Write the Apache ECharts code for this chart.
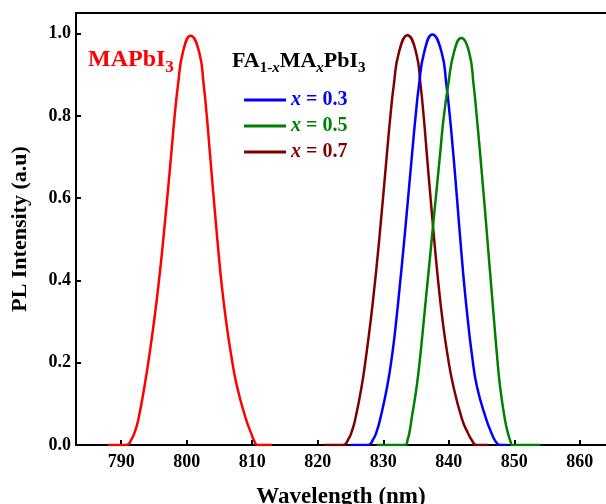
<!DOCTYPE html>
<html>
<head>
<meta charset="utf-8">
<script src="https://cdn.jsdelivr.net/npm/echarts@6/dist/echarts.min.js"></script>
<style>
  html, body { margin: 0; padding: 0; background: #fff; }
  #chart { width: 606px; height: 504px; }
</style>
</head>
<body>
<div id="chart"></div>
<script>
// PL spectra (wavelength nm / normalised intensity)
var mapWl = [788, 790.8, 791.6, 792.1, 792.6, 793.55, 794.35, 795.05, 795.67, 796.22, 796.72, 797.2, 797.66, 798.12, 798.66, 799.42, 800.6, 801.9, 802.6, 803.1, 803.53, 803.96, 804.4, 804.86, 805.36, 805.98, 806.73, 807.68, 809.08, 809.8, 810.3, 810.85, 813];
var mapPL = [0, 0, 0.015, 0.033, 0.061, 0.142, 0.224, 0.305, 0.386, 0.467, 0.549, 0.630, 0.711, 0.793, 0.874, 0.955, 0.995, 0.955, 0.874, 0.793, 0.711, 0.630, 0.549, 0.467, 0.386, 0.305, 0.224, 0.142, 0.061, 0.030, 0.010, 0, 0];

var x03Wl = [825, 827.7, 828.5, 829.0, 829.5, 830.6, 831.4, 832.0, 832.52, 833.02, 833.5, 833.96, 834.42, 834.9, 835.45, 836.25, 837.5, 838.9, 839.65, 840.2, 840.67, 841.1, 841.51, 841.93, 842.38, 842.9, 843.5, 844.3, 845.75, 846.5, 847.1, 847.8, 849];
var x03PL = [0, 0, 0.015, 0.033, 0.061, 0.142, 0.224, 0.305, 0.386, 0.467, 0.549, 0.630, 0.711, 0.793, 0.874, 0.955, 0.998, 0.955, 0.874, 0.793, 0.711, 0.630, 0.549, 0.467, 0.386, 0.305, 0.224, 0.142, 0.061, 0.030, 0.010, 0, 0];

var x05Wl = [829, 833.3, 833.75, 834.05, 834.3, 835.1, 835.7, 836.2, 836.7, 837.2, 837.7, 838.2, 838.7, 839.2, 839.9, 840.8, 841.9, 843.1, 843.8, 844.3, 844.77, 845.21, 845.64, 846.06, 846.48, 846.9, 847.33, 847.83, 848.58, 849.05, 849.4, 849.73, 854];
var x05PL = [0, 0, 0.015, 0.035, 0.061, 0.142, 0.224, 0.305, 0.386, 0.467, 0.549, 0.630, 0.711, 0.793, 0.874, 0.955, 0.989, 0.955, 0.874, 0.793, 0.711, 0.630, 0.549, 0.467, 0.386, 0.305, 0.224, 0.142, 0.061, 0.028, 0.010, 0, 0];

var x07Wl = [821, 823.9, 824.7, 825.2, 825.7, 826.7, 827.45, 828.1, 828.67, 829.19, 829.67, 830.13, 830.58, 831.05, 831.6, 832.4, 833.7, 835.0, 835.7, 836.2, 836.63, 837.06, 837.5, 837.96, 838.46, 839.04, 839.76, 840.71, 842.06, 842.9, 843.5, 844.24, 846];
var x07PL = [0, 0, 0.015, 0.033, 0.061, 0.142, 0.224, 0.305, 0.386, 0.467, 0.549, 0.630, 0.711, 0.793, 0.874, 0.955, 0.996, 0.955, 0.874, 0.793, 0.711, 0.630, 0.549, 0.467, 0.386, 0.305, 0.224, 0.142, 0.061, 0.030, 0.012, 0, 0];

var xTicks = [790, 800, 810, 820, 830, 840, 850, 860];
var yTicks = [0, 0.2, 0.4, 0.6, 0.8, 1.0];

var FONT = 'Liberation Serif';

function pairs(xs, ys) {
    return xs.map(function (x, i) { return [x, ys[i]]; });
}

function pl(name, color, xs, ys) {
    return {
        name: name,
        type: 'line',
        data: pairs(xs, ys),
        smooth: 0.5,
        symbol: 'none',
        color: color,
        lineStyle: { width: 2.5, color: color }
    };
}

var chart = echarts.init(document.getElementById('chart'));
chart.setOption({
    animation: false,
    backgroundColor: '#fff',
    grid: { left: 76, top: 13, right: 0, bottom: 59, containLabel: false, outerBoundsMode: 'none' },
    xAxis: [{
        type: 'value',
        min: 783.1,
        max: 864,
        name: 'Wavelength (nm)',
        nameLocation: 'middle',
        nameGap: 41,
        nameTextStyle: { fontFamily: FONT, fontWeight: 'bold', fontSize: 23, color: '#000' },
        axisLine: { lineStyle: { color: '#000', width: 2 } },
        axisTick: { inside: true, length: 5, lineStyle: { width: 2, color: '#000' }, customValues: xTicks },
        axisLabel: { fontFamily: FONT, fontWeight: 'bold', fontSize: 18, color: '#000', margin: 8, customValues: xTicks },
        splitLine: { show: false }
    }, {
        // top frame line
        type: 'value',
        position: 'top',
        min: 783.1,
        max: 864,
        axisLine: { show: true, lineStyle: { color: '#000', width: 2 } },
        axisTick: { show: false },
        axisLabel: { show: false },
        splitLine: { show: false }
    }],
    yAxis: {
        type: 'value',
        min: 0,
        max: 1.05,
        name: 'PL Intensity (a.u)',
        nameLocation: 'middle',
        nameGap: 45,
        nameTextStyle: { fontFamily: FONT, fontWeight: 'bold', fontSize: 22, color: '#000' },
        axisLine: { show: true, lineStyle: { color: '#000', width: 2 } },
        axisTick: { inside: true, length: 5, lineStyle: { width: 2, color: '#000' }, customValues: yTicks },
        axisLabel: {
            fontFamily: FONT, fontWeight: 'bold', fontSize: 18, color: '#000', margin: 5,
            customValues: yTicks,
            formatter: function (v) { return v.toFixed(1); }
        },
        splitLine: { show: false }
    },
    legend: {
        orient: 'vertical',
        left: 244,
        top: 90,
        padding: 0,
        icon: 'rect',
        itemWidth: 42,
        itemHeight: 3,
        itemGap: 6,
        data: [
            { name: 'x = 0.3', textStyle: { color: '#0000ff' } },
            { name: 'x = 0.5', textStyle: { color: '#008000' } },
            { name: 'x = 0.7', textStyle: { color: '#800000' } }
        ],
        formatter: function (name) { return '{i|x}' + name.slice(1); },
        textStyle: {
            fontFamily: FONT, fontWeight: 'bold', fontSize: 20, lineHeight: 20,
            rich: { i: { fontFamily: FONT, fontWeight: 'bold', fontStyle: 'italic', fontSize: 20 } }
        }
    },
    graphic: [{
        type: 'text',
        left: 88,
        top: 48,
        style: {
            text: '{m|MAPbI}{s|3}',
            fill: '#ff0000',
            rich: {
                m: { fontFamily: FONT, fontWeight: 'bold', fontSize: 24, lineHeight: 32, verticalAlign: 'middle' },
                s: { fontFamily: FONT, fontWeight: 'bold', fontSize: 17, lineHeight: 17, verticalAlign: 'bottom' }
            }
        }
    }, {
        type: 'text',
        left: 232,
        top: 50,
        style: {
            text: '{m|FA}{s|1-}{si|x}{m|MA}{si|x}{m|PbI}{s|3}',
            fill: '#000',
            rich: {
                m: { fontFamily: FONT, fontWeight: 'bold', fontSize: 22, lineHeight: 30, verticalAlign: 'middle' },
                s: { fontFamily: FONT, fontWeight: 'bold', fontSize: 15, lineHeight: 15, verticalAlign: 'bottom' },
                si: { fontFamily: FONT, fontWeight: 'bold', fontStyle: 'italic', fontSize: 15, lineHeight: 15, verticalAlign: 'bottom' }
            }
        }
    }],
    series: [
        pl('MAPbI3', '#ff0000', mapWl, mapPL),
        pl('x = 0.7', '#800000', x07Wl, x07PL),
        pl('x = 0.3', '#0000ff', x03Wl, x03PL),
        pl('x = 0.5', '#008000', x05Wl, x05PL)
    ]
});
</script>
</body>
</html>
